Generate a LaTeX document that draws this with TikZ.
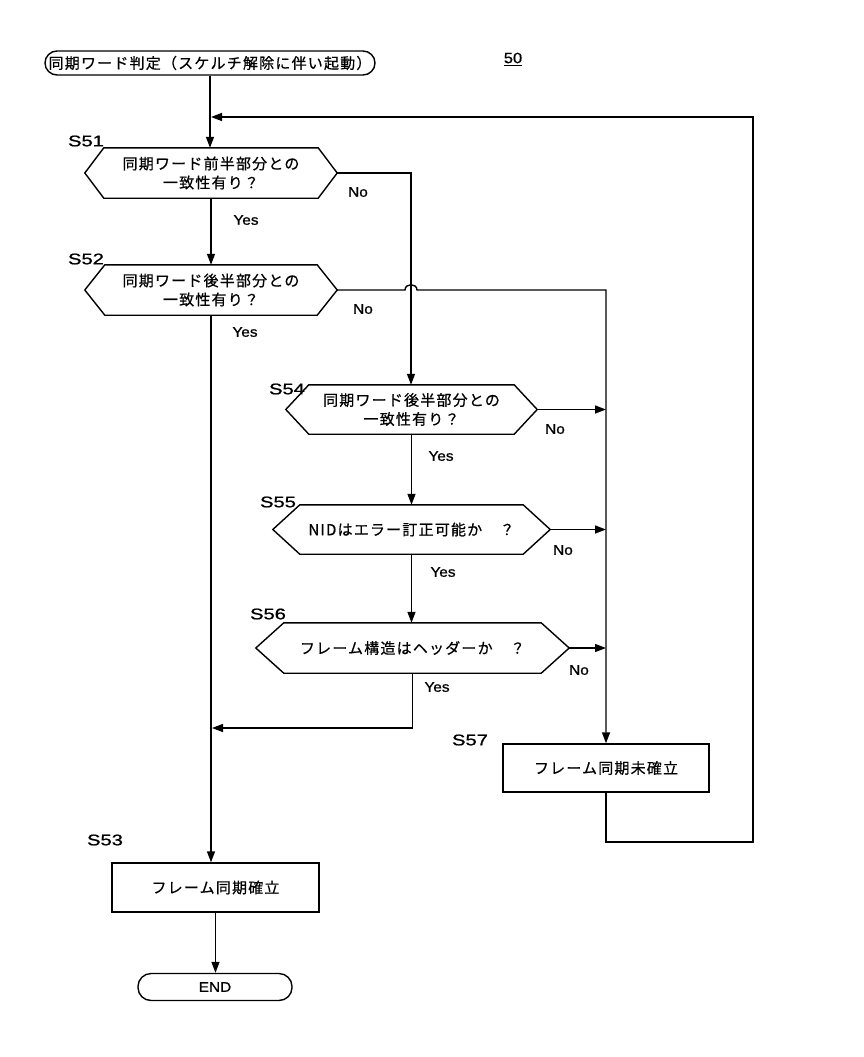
\documentclass[tikz,border=0pt]{standalone}
\usepackage{fontspec}
\setmainfont{Liberation Sans}
\newfontfamily\jp[LetterSpace=8,FakeBold=0.6]{Noto Sans CJK JP}
\newfontfamily\lab[FakeStretch=1.3,FakeBold=1]{Liberation Sans}
\newfontfamily\yn[FakeStretch=1.1,FakeBold=0.8]{Liberation Sans}
\usetikzlibrary{arrows.meta,calc}
\tikzset{
  ln/.style={line width=1.4pt, line join=miter},
  arr/.style={ln, -{Triangle[length=11pt,width=8pt]}},
  jt/.style={font=\jp\fontsize{15}{19}\selectfont, align=center, inner sep=0pt},
  hexn/.style={jt, draw=none, minimum width=#1},
  boxn/.style={jt, draw, ln, minimum width=#1},
  sl/.style={font=\lab\fontsize{15.5}{15.5}\selectfont, inner sep=0pt},
  yl/.style={font=\yn\fontsize{14}{14}\selectfont, inner sep=0pt},
}
\newcommand\hexdraw[2]{\draw[ln] (#1.west) -- ([xshift=#2]#1.north west) -- ([xshift=-#2]#1.north east) -- (#1.east) -- ([xshift=-#2]#1.south east) -- ([xshift=#2]#1.south west) -- cycle;}
\begin{document}
\begin{tikzpicture}[x=1pt,y=-1pt]
\fill[white] (0,0) rectangle (864,1057);
\useasboundingbox (0,0) rectangle (864,1057);

% start terminal
\node[jt, draw, ln, rounded corners=12pt, minimum width=330pt, minimum height=24pt] (start) at (210,63) {同期ワード判定（スケルチ解除に伴い起動）};
\node[font=\yn\fontsize{15}{15}\selectfont, inner sep=0pt] (fig) at (513,59) {\underline{50}};

% decisions
\node[hexn=252pt, minimum height=50pt] (s51) at (211,173) {同期ワード前半部分との\\一致性有り？};
\hexdraw{s51}{19pt}
\node[hexn=252pt, minimum height=50pt] (s52) at (211,290) {同期ワード後半部分との\\一致性有り？};
\hexdraw{s52}{20pt}
\node[hexn=251pt, minimum height=49pt] (s54) at (411.5,409.5) {同期ワード後半部分との\\一致性有り？};
\hexdraw{s54}{23pt}
\node[hexn=277pt, minimum height=49pt] (s55) at (411.5,529.5) {NIDはエラー訂正可能か　？};
\hexdraw{s55}{27pt}
\node[hexn=313pt, minimum height=50pt] (s56) at (412.5,648) {フレーム構造はヘッダーか　？};
\hexdraw{s56}{28pt}

% process boxes
\node[boxn=206pt, minimum height=48pt] (s57) at (606,768) {フレーム同期未確立};
\node[boxn=207pt, minimum height=49pt] (s53) at (215.5,887.5) {フレーム同期確立};
\node[jt, draw, ln, rounded corners=13pt, minimum width=154pt, minimum height=27pt, font=\yn\fontsize{14}{14}\selectfont] (end) at (215,987) {END};

% step labels
\node[sl] (l51) at (86,141) {S51};
\node[sl] (l52) at (86,259) {S52};
\node[sl] (l54) at (287,389) {S54};
\node[sl] (l55) at (278,502) {S55};
\node[sl] (l56) at (268,614) {S56};
\node[sl] (l57) at (470,740) {S57};
\node[sl] (l53) at (105,840) {S53};

% yes / no labels
\node[yl] (n51) at (358,192) {No};
\node[yl] (y51) at (246,220) {Yes};
\node[yl] (n52) at (363,309) {No};
\node[yl] (y52) at (245,332) {Yes};
\node[yl] (n54) at (555,429) {No};
\node[yl] (y54) at (441,456) {Yes};
\node[yl] (n55) at (563,550) {No};
\node[yl] (y55) at (443,572) {Yes};
\node[yl] (n56) at (579,670) {No};
\node[yl] (y56) at (437,687) {Yes};

% coordinates
\coordinate (c51) at (411,173);
\coordinate (h1) at (405,290);
\coordinate (h2) at (417,290);
\coordinate (c52) at (606,290);
\coordinate (lb) at (606,842);
\coordinate (lr) at (753,842);
\coordinate (lt) at (753,117);
\coordinate (lm) at (211,117);
\coordinate (mj) at (212,728);

% connectors
\draw[arr] (start.south) -- (start.south |- s51.north);
\draw[arr] (s51.south) -- (s52.north);
\draw[arr] (s51.east) -- (c51) -- (c51 |- s54.north);
\draw[arr] (s52.east) -- (h1) .. controls (405,283) and (417,283) .. (h2) -- (c52) -- (s57.north);
\draw[arr] (s52.south) -- (s52.south |- s53.north);
\draw[arr] (s54.east) -- (s54.east -| s57.north);
\draw[arr] (s55.east) -- (s55.east -| s57.north);
\draw[arr] (s56.east) -- (s56.east -| s57.north);
\draw[arr] (s54.south) -- (s54.south |- s55.north);
\draw[arr] (s55.south) -- (s55.south |- s56.north);
\draw[arr] (s56.south) |- (mj);
\draw[arr] (s57.south) -- (lb) -- (lr) -- (lt) -- (lm);
\draw[arr] (s53.south) -- (s53.south |- end.north);
\end{tikzpicture}
\end{document}
